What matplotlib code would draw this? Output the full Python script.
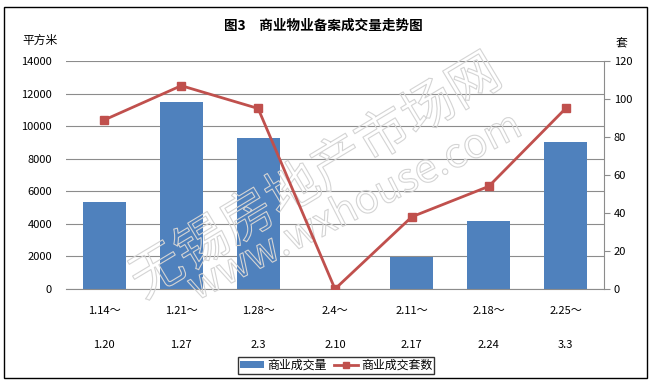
import matplotlib
matplotlib.use('Agg')
import matplotlib.pyplot as plt
from matplotlib.patches import Rectangle, Patch
from matplotlib.lines import Line2D
import matplotlib.patheffects as pe
import numpy as np

plt.rcParams['font.family'] = ['Noto Sans CJK SC', 'DejaVu Sans']

# data
weeks_start = ['1.14～', '1.21～', '1.28～', '2.4～', '2.11～', '2.18～', '2.25～']
weeks_end = ['1.20', '1.27', '2.3', '2.10', '2.17', '2.24', '3.3']
area = [5350, 11500, 9250, 0, 1950, 4150, 9000]      # 商业成交量 (平方米)
units = [89, 107, 95, 0, 38, 54, 95]                 # 商业成交套数 (套)

bar_color = '#4F81BD'
line_color = '#C0504D'

fig = plt.figure(figsize=(6.53, 3.85), dpi=100)
ax = fig.add_axes([0.101, 0.2494, 0.824, 0.5922])
x = np.arange(len(area))

ax.bar(x, area, width=0.56, color=bar_color, zorder=2)
ax.set_xlim(-0.5, len(area) - 0.5)
ax.set_ylim(0, 14000)
ax.set_yticks(np.arange(0, 14001, 2000))
ax.yaxis.grid(True, color='#8c8c8c', lw=0.8, zorder=0)
ax.tick_params(axis='y', length=0, labelsize=8, pad=10)
ax.tick_params(axis='x', length=0, labelsize=8, pad=12)
ax.set_xticks(x)
ax.set_xticklabels([f'{a}\n\n{b}' for a, b in zip(weeks_start, weeks_end)],
                   linespacing=1.9)
for s in ['top', 'left', 'right']:
    ax.spines[s].set_visible(False)
ax.spines['bottom'].set_color('#8c8c8c')

# watermark (thin light outline only), above bars but under the line
outline = [pe.Stroke(linewidth=0.8, foreground='#d4d4d4')]
wm = ax.text(0.484, 0.54, '无锡房地产市场网', rotation=31, fontsize=38,
             color='none', ha='center', va='center', zorder=3,
             fontweight='light', rotation_mode='anchor',
             transform=fig.transFigure, clip_on=False)
wm.set_path_effects(outline)
wm2 = ax.text(0.544, 0.462, 'www.wxhouse.com', rotation=27, fontsize=29,
              color='none', ha='center', va='center', zorder=3,
              rotation_mode='anchor', transform=fig.transFigure, clip_on=False)
wm2.set_path_effects(outline)

ax2 = ax.twinx()
ax2.plot(x, units, color=line_color, lw=2, marker='s', markersize=6, zorder=3)
ax2.set_ylim(0, 120)
ax2.set_yticks(np.arange(0, 121, 20))
ax2.tick_params(axis='y', direction='out', length=4, color='#8c8c8c',
                labelsize=8, pad=3)
for s in ['top', 'left', 'bottom']:
    ax2.spines[s].set_visible(False)
ax2.spines['right'].set_color('#8c8c8c')

fig.text(0.495, 0.932, '图3　商业物业备案成交量走势图', ha='center', va='center',
         fontsize=9.8, fontweight='bold')
fig.text(0.062, 0.895, '平方米', ha='center', va='center', fontsize=8.5)
fig.text(0.951, 0.885, '套', ha='center', va='center', fontsize=8.5)

handles = [Patch(facecolor=bar_color),
           Line2D([], [], color=line_color, lw=2, marker='s', markersize=5)]
fig.legend(handles, ['商业成交量', '商业成交套数'], loc='center',
           bbox_to_anchor=(0.515, 0.051), ncol=2, fontsize=8.6, frameon=True,
           fancybox=False, edgecolor='black', handlelength=2.0, handleheight=0.5,
           handletextpad=0.3, columnspacing=0.6, borderpad=0.15,
           borderaxespad=0)

fig.patches.append(Rectangle((0.006, 0.018), 0.985, 0.965, transform=fig.transFigure,
                             fill=False, edgecolor='black', lw=1))

fig.savefig('out.png', dpi=100)
